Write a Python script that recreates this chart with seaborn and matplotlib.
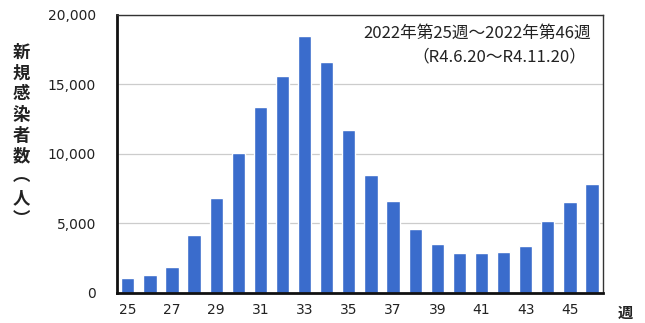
import seaborn as sns
import pandas as pd
import numpy as np
import matplotlib.pyplot as plt

# weekly new cases, 2022 week 25 - 46
weeks = list(range(25, 47))
cases = [1100, 1300, 1900, 4200, 6800, 10100, 13400, 15600, 18500, 16600, 11700,
         8500, 6600, 4600, 3500, 2850, 2850, 2930, 3400, 5200, 6570, 7820]
yticks = [0, 5000, 10000, 15000, 20000]
ylabel = "新規感染者数（人）"

sns.set_style("white")
plt.rcParams['font.family'] = ['Noto Sans CJK JP', 'DejaVu Sans']

df = pd.DataFrame({"week": weeks, "cases": cases})

fig = plt.figure(figsize=(6.45, 3.23), dpi=100)
ax = fig.add_axes([0.181, 0.093, 0.754, 0.861])
sns.barplot(data=df, x="week", y="cases", color="#3a6ccc", saturation=1, width=0.6, ax=ax)

ax.set_ylim(0, 20000)
ax.set_xlim(-0.5, len(weeks) - 0.5)
ax.set_yticks(yticks)
ax.set_yticklabels([f"{v:,}" for v in yticks], family="DejaVu Sans")
ax.set_xticks(range(0, len(weeks), 2))
ax.set_xticklabels([str(w) for w in weeks[::2]], family="DejaVu Sans")
ax.tick_params(axis="both", length=0, labelsize=10, colors="#222222")
ax.tick_params(axis="y", pad=15)
ax.tick_params(axis="x", pad=7)
ax.yaxis.grid(True, color="#cccccc", linewidth=0.9)
ax.set_axisbelow(True)
ax.set_xlabel("")
ax.set_ylabel("")

for s in ["left", "bottom"]:
    ax.spines[s].set_linewidth(2)
    ax.spines[s].set_color("#111111")
for s in ["top", "right"]:
    ax.spines[s].set_linewidth(1)
    ax.spines[s].set_color("#333333")

# vertical y label with vertical-form brackets
vlabel = ylabel.replace("（", "︵").replace("）", "︶")
fig.text(0.033, 0.58, "\n".join(vlabel), ha="center", va="center", fontsize=12.5,
         linespacing=1.2, color="#222222", fontweight="bold")
fig.text(0.969, 0.032, "週", ha="center", va="center", fontsize=11, color="#222222",
         fontweight="bold")

ax.text(0.976, 0.935, "2022年第25週～2022年第46週", transform=ax.transAxes,
        ha="right", va="center", fontsize=12, color="#222222")
ax.text(0.966, 0.848, "（R4.6.20～R4.11.20）", transform=ax.transAxes,
        ha="right", va="center", fontsize=12, color="#222222")

plt.savefig("out.png", dpi=100)
